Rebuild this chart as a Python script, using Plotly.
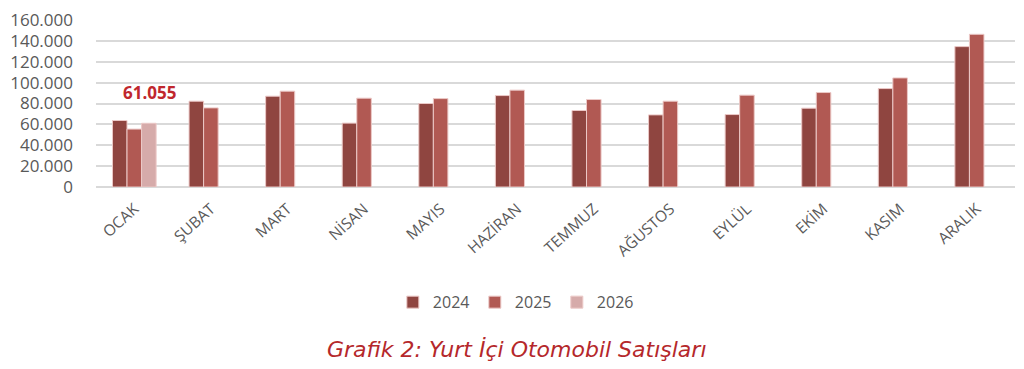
import plotly.graph_objects as go

months = ["OCAK", "ŞUBAT", "MART", "NİSAN", "MAYIS", "HAZİRAN",
          "TEMMUZ", "AĞUSTOS", "EYLÜL", "EKİM", "KASIM", "ARALIK"]
sales_2024 = [63700, 82200, 87000, 61200, 80000, 87600, 73300, 69100, 69400, 75500, 94300, 134500]
sales_2025 = [55500, 75800, 91800, 85100, 84700, 92800, 83800, 82200, 88000, 90500, 104500, 146300]
sales_2026 = [61055, None, None, None, None, None, None, None, None, None, None, None]
y_ticks = [0, 20000, 40000, 60000, 80000, 100000, 120000, 140000, 160000]

colors = {"2024": "#8f4540", "2025": "#b15953", "2026": "#d6abaa"}
gray = "#595959"

fig = go.Figure()
for name, vals in [("2024", sales_2024), ("2025", sales_2025), ("2026", sales_2026)]:
    fig.add_trace(go.Bar(
        x=months, y=vals, name=name,
        marker=dict(color=colors[name], line=dict(color="#ecc9c7", width=1)),
    ))

fig.add_annotation(
    x="OCAK", y=sales_2026[0], xref="x", yref="y",
    text="<b>" + f"{sales_2026[0]:,}".replace(",", ".") + "</b>",
    showarrow=False, xshift=15, yshift=31,
    font=dict(family="Open Sans, sans-serif", size=17, color="#c0272d"),
)

fig.add_annotation(
    x=0.458, y=-0.975, xref="paper", yref="paper",
    text="<i>Grafik 2: Yurt İçi Otomobil Satışları</i>",
    showarrow=False, xanchor="center", yanchor="middle",
    font=dict(family="DejaVu Sans, sans-serif", size=22, color="#b5282b"),
)

fig.update_layout(
    width=1024, height=369,
    margin=dict(l=96, r=9, t=20, b=182, pad=0, autoexpand=False),
    paper_bgcolor="white", plot_bgcolor="white",
    separators=",.",
    barmode="group", bargap=0.43, bargroupgap=0,
    font=dict(family="Open Sans, sans-serif", color=gray),
    legend=dict(
        orientation="h", x=0.323, xanchor="left", y=-0.69, yanchor="middle",
        font=dict(size=16, color=gray), itemwidth=30, tracegroupgap=0,
        entrywidth=37, entrywidthmode="pixels",
    ),
    xaxis=dict(
        tickangle=-42, tickfont=dict(size=15.5, color=gray),
        showgrid=False, showline=False, ticks="", automargin=False,
        ticklabelstandoff=9,
    ),
    yaxis=dict(
        range=[0, 160000], tickvals=y_ticks, tickformat=",d",
        tickfont=dict(size=17, color=gray), automargin=False,
        gridcolor="#d9d9d9", gridwidth=1.5, zeroline=True, zerolinecolor="#d9d9d9",
        zerolinewidth=1.5, showline=False, ticklabelstandoff=22,
    ),
)

fig.write_html("out.html", config={"displayModeBar": False},
               post_script="document.body.style.margin='0';")
